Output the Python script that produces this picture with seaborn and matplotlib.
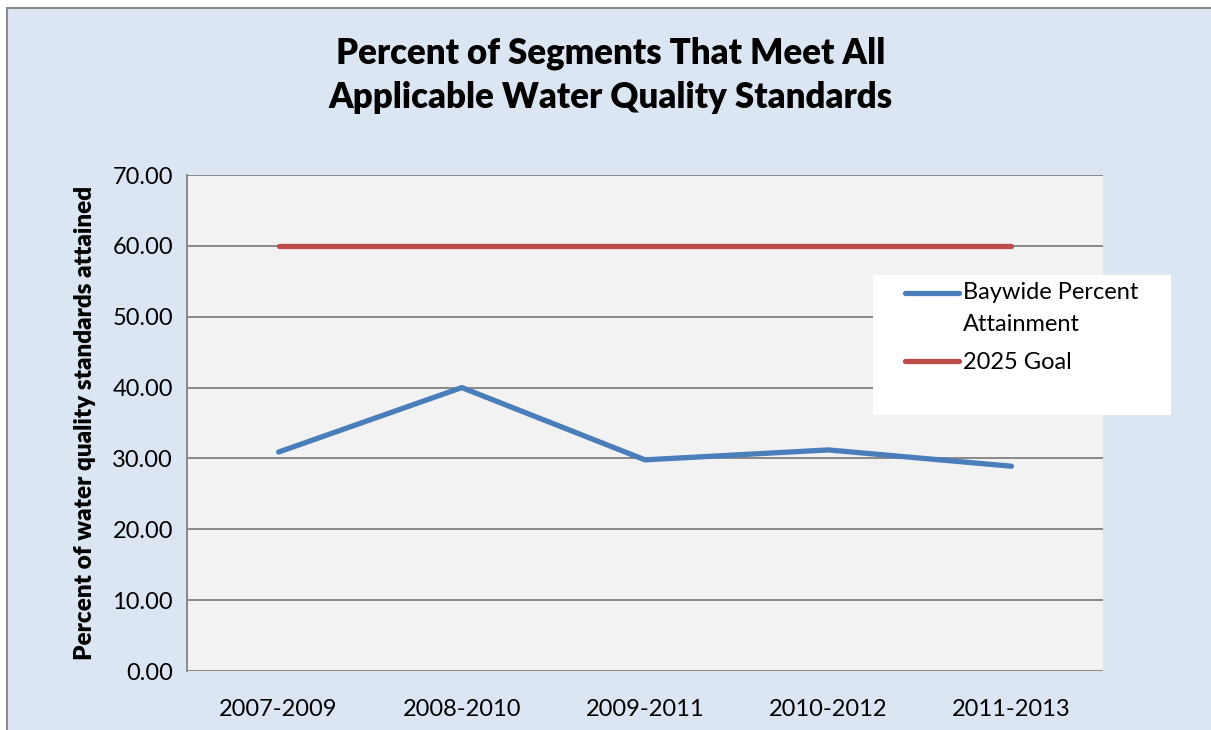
import matplotlib
matplotlib.use("Agg")
import matplotlib.pyplot as plt
from matplotlib.patches import Rectangle
import seaborn as sns
import pandas as pd

periods = ["2007-2009", "2008-2010", "2009-2011", "2010-2012", "2011-2013"]
baywide = [30.9, 40.0, 29.8, 31.2, 28.9]
goal = [60.0, 60.0, 60.0, 60.0, 60.0]
series_names = ["Baywide Percent\nAttainment", "2025 Goal"]
y_ticks = [0, 10, 20, 30, 40, 50, 60, 70]

df = pd.DataFrame({
    "Period": periods * 2,
    "Value": baywide + goal,
    "Series": [series_names[0]] * len(periods) + [series_names[1]] * len(periods),
})

sns.set_theme(style="white")
plt.rcParams["font.family"] = ["Lato", "DejaVu Sans"]
plt.rcParams["text.color"] = "black"
plt.rcParams["axes.labelcolor"] = "black"

W, H = 1211, 730
fig = plt.figure(figsize=(12.11, 7.30), dpi=100, facecolor="white")

# chart area background with frame (left/top edges visible)
fig.patches.append(Rectangle((7 / W, -0.1), 1.2, 1 - 8 / H + 0.1, transform=fig.transFigure,
                             facecolor="#dce6f2", edgecolor="#8c8c8c", lw=1.5, zorder=-2))

ax = fig.add_axes([187 / W, 1 - 671 / H, (1103 - 187) / W, (671 - 175) / H])
ax.set_facecolor("#f2f2f2")

sns.lineplot(data=df, x="Period", y="Value", hue="Series",
             palette=["#4a7ebb", "#be4b48"], linewidth=3.8, ax=ax, legend=False,
             sort=False)
for ln in ax.lines:
    ln.set_solid_capstyle("round")

ax.set_xlim(-0.5, 4.5)
ax.set_ylim(0, 70)
ax.set_yticks(y_ticks)
ax.set_yticklabels([f"{v:.2f}" for v in y_ticks])
ax.yaxis.grid(True, color="#898989", lw=1.4)
ax.set_axisbelow(True)
for s in ["top", "right", "bottom"]:
    ax.spines[s].set_visible(False)
ax.spines["left"].set_color("#898989")
ax.spines["left"].set_linewidth(1.4)
ax.tick_params(axis="both", length=0, labelsize=17, colors="black")
ax.tick_params(axis="y", pad=10)
ax.tick_params(axis="x", pad=20)
ax.set_xlabel("")
ax.set_ylabel("Percent of water quality standards attained", fontsize=17.5,
              fontweight=800, labelpad=12)

fig.text(611 / W, 1 - 75 / H, "Percent of Segments That Meet All\nApplicable Water Quality Standards",
         ha="center", va="center", fontsize=25, fontweight=800, linespacing=1.4)

# legend box
fig.patches.append(Rectangle((873 / W, 1 - 415 / H), 298 / W, 140 / H, transform=fig.transFigure,
                             facecolor="white", edgecolor="none", zorder=3))
leg = fig.legend(ax.lines, series_names, loc="upper left", bbox_to_anchor=(905 / W, 1 - 282 / H),
                 frameon=False, fontsize=17, handlelength=2.3, handletextpad=0.15,
                 labelspacing=0.75, borderaxespad=0, borderpad=0)
for t in leg.get_texts():
    t.set_linespacing(1.62)
# keep the first handle level with the first line of its two-line label
h0 = leg.legend_handles[0]
h0.set_ydata([y + 11.0 for y in h0.get_ydata()])

fig.savefig("out.png", dpi=100, facecolor="white")
